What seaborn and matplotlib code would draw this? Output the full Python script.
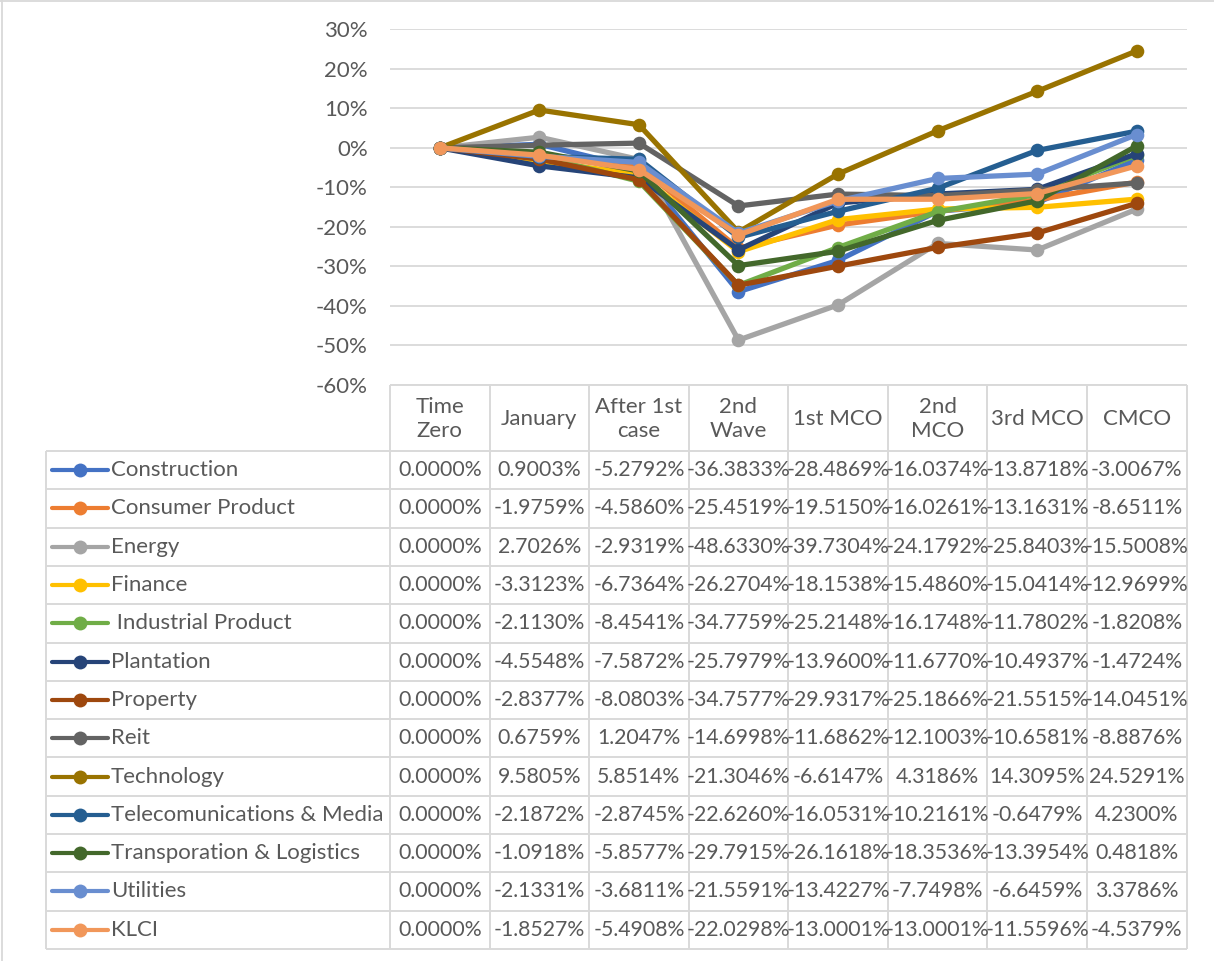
import matplotlib
matplotlib.use("Agg")
import matplotlib.pyplot as plt
from matplotlib.lines import Line2D
from matplotlib.ticker import FuncFormatter, MultipleLocator
import numpy as np
import pandas as pd
import seaborn as sns

# ---- data -------------------------------------------------------------
periods = ["Time Zero", "January", "After 1st case", "2nd Wave",
           "1st MCO", "2nd MCO", "3rd MCO", "CMCO"]
period_headers = ["Time\nZero", "January", "After 1st\ncase", "2nd\nWave",
                  "1st MCO", "2nd\nMCO", "3rd MCO", "CMCO"]

sectors = ["Construction", "Consumer Product", "Energy", "Finance",
           " Industrial Product", "Plantation", "Property", "Reit",
           "Technology", "Telecomunications & Media",
           "Transporation & Logistics", "Utilities", "KLCI"]

construction = [0.0, 0.9003, -5.2792, -36.3833, -28.4869, -16.0374, -13.8718, -3.0067]
consumer_product = [0.0, -1.9759, -4.5860, -25.4519, -19.5150, -16.0261, -13.1631, -8.6511]
energy = [0.0, 2.7026, -2.9319, -48.6330, -39.7304, -24.1792, -25.8403, -15.5008]
finance = [0.0, -3.3123, -6.7364, -26.2704, -18.1538, -15.4860, -15.0414, -12.9699]
industrial_product = [0.0, -2.1130, -8.4541, -34.7759, -25.2148, -16.1748, -11.7802, -1.8208]
plantation = [0.0, -4.5548, -7.5872, -25.7979, -13.9600, -11.6770, -10.4937, -1.4724]
property_ = [0.0, -2.8377, -8.0803, -34.7577, -29.9317, -25.1866, -21.5515, -14.0451]
reit = [0.0, 0.6759, 1.2047, -14.6998, -11.6862, -12.1003, -10.6581, -8.8876]
technology = [0.0, 9.5805, 5.8514, -21.3046, -6.6147, 4.3186, 14.3095, 24.5291]
telecom_media = [0.0, -2.1872, -2.8745, -22.6260, -16.0531, -10.2161, -0.6479, 4.2300]
transport_logistics = [0.0, -1.0918, -5.8577, -29.7915, -26.1618, -18.3536, -13.3954, 0.4818]
utilities = [0.0, -2.1331, -3.6811, -21.5591, -13.4227, -7.7498, -6.6459, 3.3786]
klci = [0.0, -1.8527, -5.4908, -22.0298, -13.0001, -13.0001, -11.5596, -4.5379]

series = [construction, consumer_product, energy, finance, industrial_product,
          plantation, property_, reit, technology, telecom_media,
          transport_logistics, utilities, klci]

colors = ["#4472C4", "#ED7D31", "#A5A5A5", "#FFC000", "#70AD47", "#264478",
          "#9E480E", "#636363", "#997300", "#255E91", "#43682B", "#698ED0",
          "#F1975A"]
palette = dict(zip(sectors, colors))

df = pd.DataFrame(
    [(s, p, v) for s, vals in zip(sectors, series) for p, v in zip(periods, vals)],
    columns=["sector", "period", "ret"],
)

# ---- style ------------------------------------------------------------
sns.set_style("white")
plt.rcParams["font.family"] = ["Lato", "DejaVu Sans"]
TEXT = "#595959"
GRID = "#D9D9D9"
FS = 15.3
FS_NAME = 16

W, H = 1214, 961
fig = plt.figure(figsize=(W / 100, H / 100), dpi=100)

# plot area in pixel units
PL, PR = 390.0, 1186.5
PT, PB = 29.3, 385.0
ax = fig.add_axes([PL / W, 1 - PB / H, (PR - PL) / W, (PB - PT) / H])

sns.lineplot(data=df, x="period", y="ret", hue="sector", hue_order=sectors,
             palette=palette, marker="o", markersize=9.8, markeredgewidth=0,
             linewidth=3.8, sort=False, errorbar=None, legend=False, ax=ax)

ax.set_xlim(-0.5, len(periods) - 0.5)
ax.set_ylim(-60, 30)
ax.yaxis.set_major_locator(MultipleLocator(10))
ax.yaxis.set_major_formatter(FuncFormatter(lambda v, _: f"{v:.0f}%"))
ax.set_xticks([])
ax.set_xlabel("")
ax.set_ylabel("")
ax.grid(axis="y", color=GRID, linewidth=1.3)
ax.set_axisbelow(True)
for sp in ax.spines.values():
    sp.set_visible(False)
ax.tick_params(axis="y", length=0, pad=16, labelsize=FS_NAME, labelcolor=TEXT)
ax.patch.set_alpha(0)

# ---- data table under the plot ---------------------------------------
tab = fig.add_axes([0, 0, 1, 1], zorder=-1)
tab.set_xlim(0, W)
tab.set_ylim(H, 0)
tab.axis("off")

LEG_L = 46.0
HEAD_B = 451.0
ROW_H = 38.3
ncol = len(periods)
col_w = (PR - PL) / ncol
TAB_B = HEAD_B + ROW_H * len(sectors)
lw_tab = 1.4

# outer chart frame (top and left edges)
tab.plot([0, W], [0.6, 0.6], color=GRID, lw=1.3, solid_capstyle="butt")
tab.plot([2.0, 2.0], [0, H], color=GRID, lw=1.3, solid_capstyle="butt")

# header row border
tab.plot([PL, PR], [PB, PB], color=GRID, lw=lw_tab, solid_capstyle="butt")
# row borders
for i in range(len(sectors) + 1):
    y = HEAD_B + i * ROW_H
    tab.plot([LEG_L, PR], [y, y], color=GRID, lw=lw_tab, solid_capstyle="butt")
# column borders
for j in range(ncol + 1):
    x = PL + j * col_w
    tab.plot([x, x], [PB, TAB_B], color=GRID, lw=lw_tab, solid_capstyle="butt")
tab.plot([LEG_L, LEG_L], [HEAD_B, TAB_B], color=GRID, lw=lw_tab, solid_capstyle="butt")

# header labels
for j, hdr in enumerate(period_headers):
    tab.text(PL + (j + 0.5) * col_w, (PB + HEAD_B) / 2 + 1, hdr, ha="center",
             va="center", fontsize=FS_NAME, color=TEXT, linespacing=1.3)

# rows: legend key, sector name, values
for i, (name, vals) in enumerate(zip(sectors, series)):
    yc = HEAD_B + (i + 0.5) * ROW_H
    tab.add_line(Line2D([52, 108], [yc, yc], color=palette[name], lw=3.0,
                        solid_capstyle="round"))
    tab.add_line(Line2D([80], [yc], color=palette[name], marker="o",
                        markersize=10, markeredgewidth=0, linestyle="none"))
    tab.text(111, yc, name, ha="left", va="center", fontsize=FS_NAME, color=TEXT)
    for j, v in enumerate(vals):
        tab.text(PL + (j + 0.5) * col_w, yc, f"{v:.4f}%", ha="center",
                 va="center", fontsize=FS, color=TEXT)

fig.savefig("out.png", dpi=100, facecolor="white")
